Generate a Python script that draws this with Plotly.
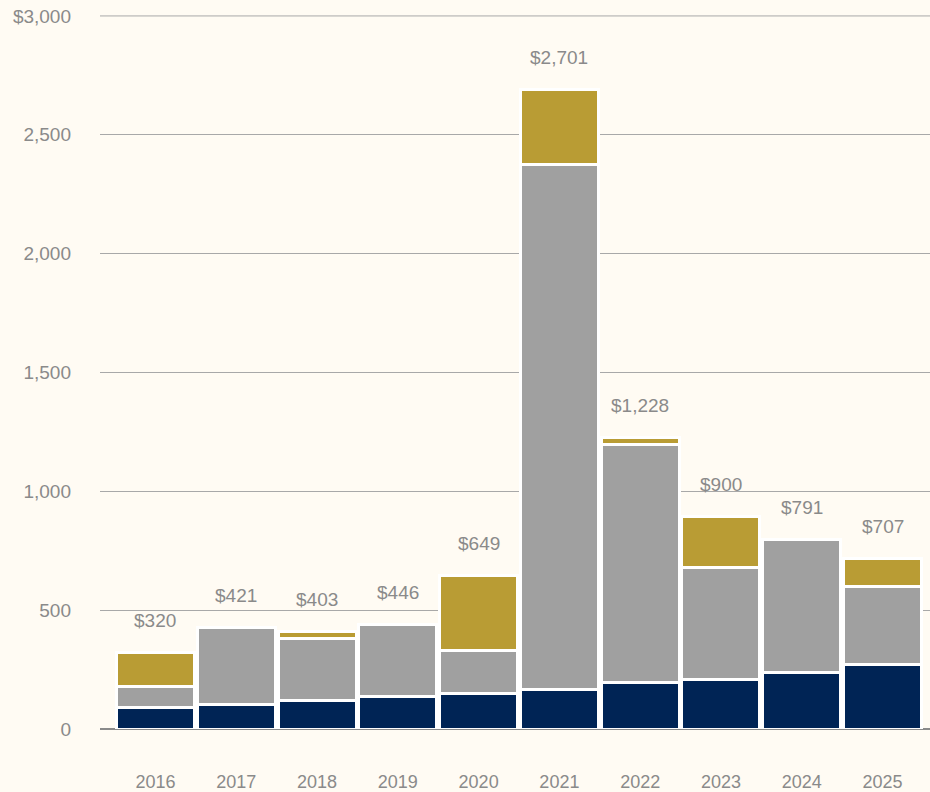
import plotly.graph_objects as go

# values ($)
years = ["2016", "2017", "2018", "2019", "2020", "2021", "2022", "2023", "2024", "2025"]
navy_vals = [90, 104, 119, 136, 149, 165, 196, 208, 239, 273]
gray_vals = [90, 321, 261, 303, 181, 2210, 1001, 473, 557, 325]
gold_vals = [140, 0, 30, 0, 314, 315, 28, 215, 0, 120]
total_labels = ["$320", "$421", "$403", "$446", "$649", "$2,701", "$1,228", "$900", "$791", "$707"]

y_ticks = [0, 500, 1000, 1500, 2000, 2500, 3000]
y_ticktext = ["0", "500", "1,000", "1,500", "2,000", "2,500", "$3,000"]
y_max = 3000

bg = "#fffbf3"
font_color = "#8a8a8a"
grid_color = "#a8a8a8"
font_family = "Liberation Sans, Arial, Helvetica, sans-serif"

fig = go.Figure()
for vals, color in [(navy_vals, "#002455"), (gray_vals, "#a0a0a0"), (gold_vals, "#b99c34")]:
    fig.add_trace(go.Bar(
        x=years, y=vals, width=0.965,
        marker=dict(color=color, line=dict(color="white", width=3)),
        hoverinfo="skip", showlegend=False,
    ))

totals = [a + b + c for a, b, c in zip(navy_vals, gray_vals, gold_vals)]
for i, (tot, lab) in enumerate(zip(totals, total_labels)):
    # category index so "2016" is not read as a number
    fig.add_annotation(x=i, y=tot, text=lab, showarrow=False,
                       yanchor="middle", yshift=32,
                       font=dict(size=19, color=font_color, family=font_family))

# plotly drops the gridline sitting on the top edge, so draw it
fig.add_shape(type="line", xref="paper", x0=0, x1=1, yref="y", y0=y_max, y1=y_max,
              line=dict(color=grid_color, width=1), layer="below")

fig.update_layout(
    barmode="stack",
    width=930, height=792,
    margin=dict(l=100, r=0, t=15, b=63),
    paper_bgcolor=bg, plot_bgcolor=bg,
    font=dict(family=font_family, size=19, color=font_color),
    xaxis=dict(type="category", range=[-0.687, 9.588], showgrid=False,
               showline=False, ticks="", ticklabelstandoff=40,
               tickfont=dict(size=18, color=font_color)),
    yaxis=dict(range=[0, 3004], tickvals=y_ticks, ticktext=y_ticktext,
               showgrid=True, gridcolor=grid_color, gridwidth=1,
               zeroline=True, zerolinecolor="#8a8a8a", zerolinewidth=1.5,
               ticks="", ticklabelstandoff=28,
               tickfont=dict(size=19, color=font_color)),
)

fig.write_html("out.html", config={"displayModeBar": False},
               post_script="document.body.style.margin='0';document.body.style.overflow='hidden';"
                           "document.body.style.background='#fffbf3';")
